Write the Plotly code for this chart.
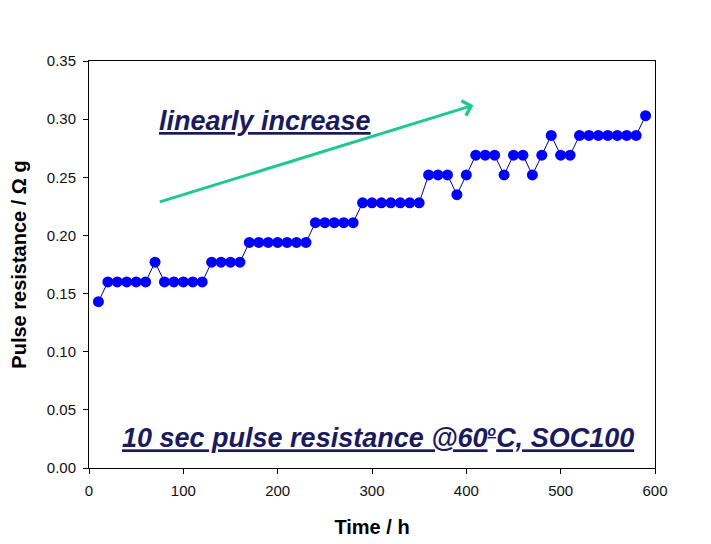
import plotly.graph_objects as go

# Data
time_h = [10, 20, 30, 40, 50, 60, 70, 80, 90, 100, 110, 120, 130, 140, 150, 160,
          170, 180, 190, 200, 210, 220, 230, 240, 250, 260, 270, 280, 290, 300,
          310, 320, 330, 340, 350, 360, 370, 380, 390, 400, 410, 420, 430, 440,
          450, 460, 470, 480, 490, 500, 510, 520, 530, 540, 550, 560, 570, 580, 590]
resistance = [0.143, 0.160, 0.160, 0.160, 0.160, 0.160, 0.177, 0.160, 0.160, 0.160,
              0.160, 0.160, 0.177, 0.177, 0.177, 0.177, 0.194, 0.194, 0.194, 0.194,
              0.194, 0.194, 0.194, 0.211, 0.211, 0.211, 0.211, 0.211, 0.228, 0.228,
              0.228, 0.228, 0.228, 0.228, 0.228, 0.252, 0.252, 0.252, 0.235, 0.252,
              0.269, 0.269, 0.269, 0.252, 0.269, 0.269, 0.252, 0.269, 0.286, 0.269,
              0.269, 0.286, 0.286, 0.286, 0.286, 0.286, 0.286, 0.286, 0.303]

x_ticks = [0, 100, 200, 300, 400, 500, 600]
y_ticks = [0.00, 0.05, 0.10, 0.15, 0.20, 0.25, 0.30, 0.35]

# trend arrow endpoints (data coordinates)
arrow_start = (73.5, 0.2284)
arrow_end = (407.5, 0.312)

FONT = "Arial, Liberation Sans, sans-serif"
NAVY = "#1a1a5e"

fig = go.Figure()
fig.add_trace(go.Scatter(
    x=time_h, y=resistance, mode="lines+markers",
    line=dict(color="#000080", width=1),
    marker=dict(color="#0000ff", size=11, line=dict(width=0)),
    showlegend=False, cliponaxis=False,
))

fig.add_annotation(
    x=arrow_end[0], y=arrow_end[1], ax=arrow_start[0], ay=arrow_start[1],
    xref="x", yref="y", axref="x", ayref="y", text="",
    showarrow=True, arrowhead=4, arrowsize=1, arrowwidth=3, arrowcolor="#1dc990",
)
fig.add_annotation(
    x=0.12, y=0.298, xref="x domain", yref="y", text="<u>linearly increase</u>",
    showarrow=False, xanchor="left", yanchor="middle",
    font=dict(family=FONT, size=27, color=NAVY, weight="bold", style="italic"),
)
fig.add_annotation(
    x=0.51, y=0.026, xref="x domain", yref="y",
    text="<u>10 sec pulse resistance @60<sup><span style='font-size:14px'>o</span></sup>C, SOC100</u>",
    showarrow=False, xanchor="center", yanchor="middle",
    font=dict(family=FONT, size=27, color=NAVY, weight="bold", style="italic"),
)

axis_common = dict(
    showline=True, linecolor="black", linewidth=1, mirror=True,
    showgrid=False, zeroline=False, ticks="outside", ticklen=5,
    tickcolor="black", tickfont=dict(family=FONT, size=15, color="#111"),
    automargin=False,
)

# page body has an 8px default margin, so the figure is sized/offset for it
fig.update_layout(
    width=703, height=536,
    margin=dict(l=81, r=56, t=53, b=76),
    paper_bgcolor="white", plot_bgcolor="white",
    xaxis=dict(range=[0, 600], tickvals=x_ticks, ticktext=[str(v) for v in x_ticks],
               title=dict(text="<b>Time / h</b>", font=dict(family=FONT, size=20, color="black"),
                          standoff=21),
               ticklabelstandoff=4, **axis_common),
    yaxis=dict(range=[0, 0.35], tickvals=y_ticks, ticktext=[f"{v:.2f}" for v in y_ticks],
               title=dict(text="<b>Pulse resistance / Ω g</b>", font=dict(family=FONT, size=20, color="black"),
                          standoff=14),
               ticklabelstandoff=4, **axis_common),
)

fig.write_html("out.html")
